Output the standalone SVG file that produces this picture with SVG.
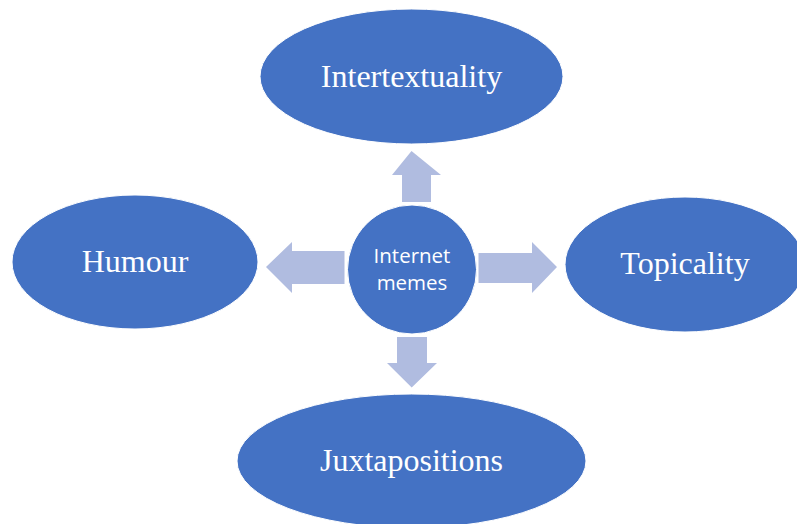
<svg xmlns="http://www.w3.org/2000/svg" width="797" height="524" viewBox="0 0 797 524">
<style>
.node{fill:#4472C4;stroke:#FFFFFF;stroke-width:1}
.lbl{fill:#FFFFFF;font-family:"Liberation Serif","Times New Roman",serif;font-size:32px;text-anchor:middle}
.clbl{fill:#FFFFFF;font-family:"Open Sans","Liberation Sans",sans-serif;font-size:20.5px;text-anchor:middle}
.arrow{fill:#B0BCE0}
</style>
<rect width="797" height="524" fill="#FFFFFF"/>
<g id="connectors">
<polygon class="arrow" points="402,202 402,175 392,175 411.5,151 441,175 431,175 431,202"/>
<polygon class="arrow" points="397,337 427,337 427,363 437,363 411.7,387.5 387,363 397,363"/>
<polygon class="arrow" points="344.5,251 292,251 292,242 266,267 292,293 292,284 344.5,284"/>
<polygon class="arrow" points="478.5,253 532,253 532,242 557,267 532,293 532,283 478.5,283"/>
</g>
<g id="node-intertextuality">
<ellipse class="node" cx="411.5" cy="76.5" rx="151.5" ry="67.5"/>
<text class="lbl" x="411.5" y="86.5">Intertextuality</text>
</g>
<g id="node-humour">
<ellipse class="node" cx="135" cy="262" rx="123" ry="67"/>
<text class="lbl" x="135" y="272">Humour</text>
</g>
<g id="node-topicality">
<ellipse class="node" cx="685" cy="264.5" rx="120" ry="67.5"/>
<text class="lbl" x="685" y="274">Topicality</text>
</g>
<g id="node-juxtapositions">
<ellipse class="node" cx="411.5" cy="461" rx="174.5" ry="67"/>
<text class="lbl" x="411.5" y="471">Juxtapositions</text>
</g>
<g id="node-internet-memes">
<circle class="node" cx="412" cy="269.5" r="64.5"/>
<text class="clbl" x="412" y="263">Internet</text>
<text class="clbl" x="412" y="290">memes</text>
</g>
</svg>
